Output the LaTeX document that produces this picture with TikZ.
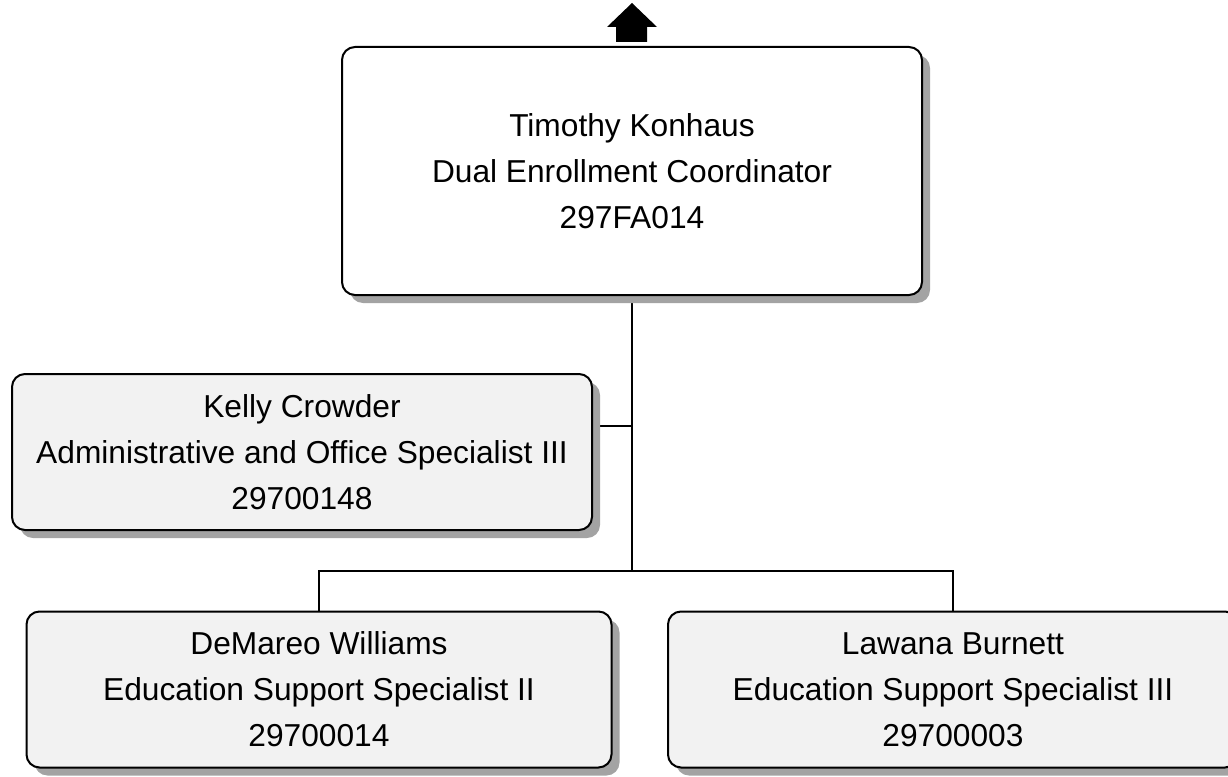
\documentclass[tikz,border=0pt]{standalone}
\usepackage{fontspec}
\setmainfont{Liberation Sans}
\usetikzlibrary{shadows,backgrounds}
\definecolor{boxgray}{HTML}{F2F2F2}
\definecolor{shadowgray}{HTML}{A3A3A3}
\begin{document}
\begin{tikzpicture}[x=1pt,y=-1pt,
  orgbox/.style={draw=black, line width=2pt, rounded corners=13pt, fill=boxgray,
    inner sep=0pt, align=center, font=\fontsize{31.7}{46}\selectfont,
    general shadow={fill=shadowgray, shadow xshift=8pt, shadow yshift=-8pt}},
  link/.style={draw=black, line width=2pt}]
\useasboundingbox (0,0) rectangle (1228,776);
\clip (0,0) rectangle (1228,776);
\node[orgbox, fill=white, minimum width=580pt, minimum height=248pt] (top) at (632,171)
  {Timothy Konhaus\\Dual Enrollment Coordinator\\297FA014};
\node[orgbox, minimum width=580pt, minimum height=156pt] (kelly) at (302,452)
  {Kelly Crowder\\Administrative and Office Specialist III\\29700148};
\node[orgbox, minimum width=585pt, minimum height=156pt] (demareo) at (319,689.5)
  {DeMareo Williams\\Education Support Specialist II\\29700014};
\node[orgbox, minimum width=570pt, minimum height=156pt] (lawana) at (953,689.5)
  {Lawana Burnett\\Education Support Specialist III\\29700003};
\coordinate (bus) at (632,571);
\coordinate (kj) at (632,426);
\begin{pgfonlayer}{background}
  \draw[link] (top.south) -- (bus);
  \draw[link] (kj) -- (kj -| kelly.east);
  \draw[link] (demareo.north) -- (demareo.north |- bus) -- (lawana.north |- bus) -- (lawana.north);
\end{pgfonlayer}
\begin{scope}[shift={(top.north)}]
  \fill[black] (-25,-19) -- (0,-43) -- (25,-19) -- (15,-19) -- (15,-4) -- (-16,-4) -- (-16,-19) -- cycle;
\end{scope}
\end{tikzpicture}
\end{document}
